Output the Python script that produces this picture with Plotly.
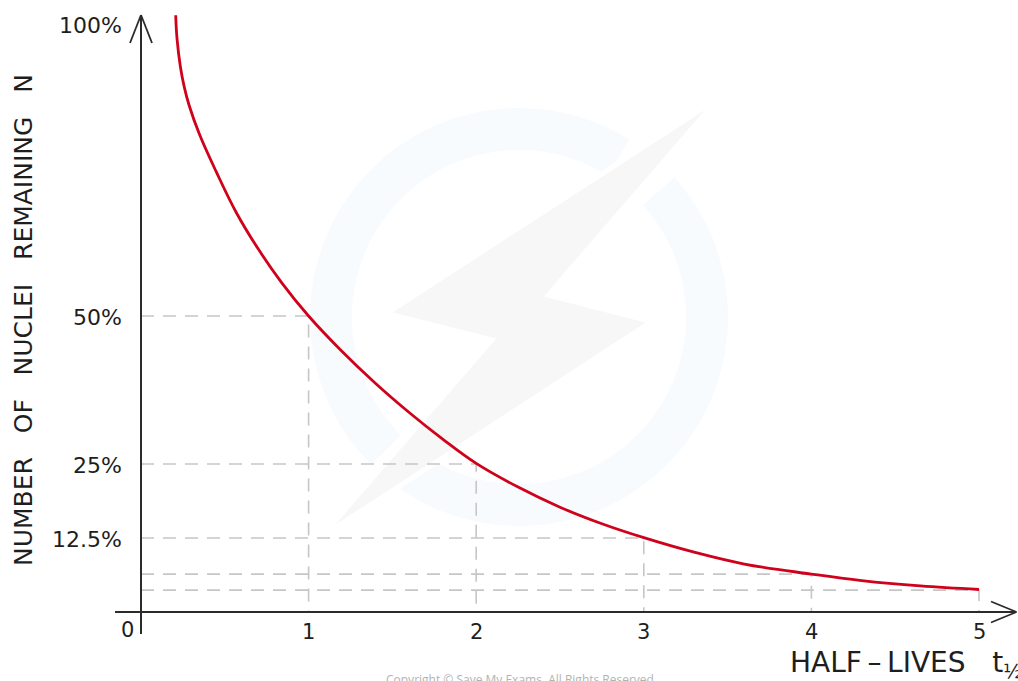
import numpy as np
import plotly.graph_objects as go

# ---------------- data ----------------
half_lives = [0.207, 0.215, 0.235, 0.258, 0.287, 0.35, 0.45, 0.57, 0.70, 0.84, 1.00, 1.20,
              1.40, 1.60, 1.80, 2.00, 2.25, 2.50, 2.75, 3.00, 3.30, 3.60, 4.00, 4.30,
              4.65, 5.00]
nuclei_pct = [100.8, 96.8, 92.1, 88.7, 85.6, 80.6, 74.3, 67.4, 61.3, 55.6, 50.0, 44.0,
              38.6, 33.7, 29.2, 25.1, 21.1, 17.7, 14.9, 12.55, 10.1, 8.1, 6.4, 5.3,
              4.4, 3.8]

guide_t = [1, 2, 3, 4, 5]
guide_n = [50, 25, 12.5, 6.4, 3.7]

x_ticks = [0, 1, 2, 3, 4, 5]
x_tick_text = ["0", "1", "2", "3", "4", "5"]
y_ticks = [100, 50, 25, 12.5]
y_tick_text = ["100%", "50%", "25%", "12.5%"]

# ---------------- figure geometry ----------------
W, H = 1018, 681
X_RANGE = [-0.8413, 5.2327]
Y_RANGE = [-11.656, 103.378]

def px(x):  # pixel -> paper x
    return x / W

def py(y):  # pixel -> paper y
    return 1 - y / H

FONT = "DejaVu Sans"
TXT = "#1e1e1e"
AXC = "#2b2b2b"
GUIDE = "#c6c6c6"
RED = "#d0021b"

fig = go.Figure()

# dashed guide lines
for t, n in zip(guide_t, guide_n):
    fig.add_trace(go.Scatter(x=[0, t, t], y=[n, n, 0], mode="lines",
                             line=dict(color=GUIDE, width=1.6, dash="13px,9px"),
                             hoverinfo="skip", showlegend=False))

# decay curve
fig.add_trace(go.Scatter(x=half_lives, y=nuclei_pct, mode="lines",
                         line=dict(color=RED, width=2.8, shape="spline", smoothing=1.1),
                         showlegend=False))

shapes = []

# watermark ring (two arcs) and bolt
cx, cy, R1, R2 = 519, 317, 209, 167
def sector(a0, a1):
    a = np.radians(np.linspace(a0, a1, 80))
    outer = [(cx + R1 * np.cos(t), cy - R1 * np.sin(t)) for t in a]
    inner = [(cx + R2 * np.cos(t), cy - R2 * np.sin(t)) for t in a[::-1]]
    pts = outer + inner
    d = "M " + " L ".join(f"{px(x):.5f},{py(y):.5f}" for x, y in pts) + " Z"
    return dict(type="path", path=d, xref="paper", yref="paper",
                fillcolor="#f8fbfe", line=dict(width=0), layer="below")
shapes.append(sector(58, 225))
shapes.append(sector(-128, 42))
bolt = [(718.3, 98.3), (548.3, 295), (651.7, 321.7), (321.7, 536.7), (491.7, 340), (386.7, 313.3)]
shapes.append(dict(type="path",
                   path="M " + " L ".join(f"{px(x):.5f},{py(y):.5f}" for x, y in bolt) + " Z",
                   xref="paper", yref="paper", fillcolor="#f7f7f7",
                   line=dict(color="white", width=5), layer="below"))

# axes with arrows (pixel-placed decorations)
def seg(x0, y0, x1, y1, w=2):
    return dict(type="line", xref="paper", yref="paper",
                x0=px(x0), y0=py(y0), x1=px(x1), y1=py(y1),
                line=dict(color=AXC, width=w), layer="above")
shapes += [
    seg(141, 634, 141, 15),
    seg(115, 612, 1016, 612),
    seg(141, 15, 130, 43, 1.8), seg(141, 15, 152, 43, 1.8),
    seg(1016.5, 612, 991, 601.5, 1.8), seg(1016.5, 612, 991, 622.5, 1.8),
]

annotations = []
for v, t in zip(x_ticks, x_tick_text):
    annotations.append(dict(x=v, y=0, xref="x", yref="y", text=t, showarrow=False,
                            xanchor="center", yanchor="middle",
                            xshift=-14 if v == 0 else 0, yshift=-18 if v == 0 else -20,
                            font=dict(family=FONT, size=21, color=TXT)))
for v, t in zip(y_ticks, y_tick_text):
    annotations.append(dict(x=0, y=v, xref="x", yref="y", text=t, showarrow=False,
                            xanchor="right", yanchor="middle", xshift=-17,
                            yshift=-5 if v == 100 else -1,
                            font=dict(family=FONT, size=22, color=TXT)))

nb = "\u00a0"
ytitle = f"NUMBER{nb*3}OF{nb*3}NUCLEI{nb*3}REMAINING{nb*3}N"
annotations.append(dict(x=px(23), y=py(320), xref="paper", yref="paper", text=ytitle,
                        textangle=-90, showarrow=False, xanchor="center", yanchor="middle",
                        font=dict(family=FONT, size=25, color=TXT)))
xtitle = f"HALF\u2009\u2013\u2009LIVES{nb*3}t<sub>\u00bd</sub>"
annotations.append(dict(x=px(788), y=py(664), xref="paper", yref="paper", text=xtitle,
                        showarrow=False, xanchor="left", yanchor="middle",
                        font=dict(family=FONT, size=28, color=TXT)))
annotations.append(dict(x=px(520), y=py(669), xref="paper", yref="paper",
                        text="Copyright \u00a9 Save My Exams. All Rights Reserved",
                        showarrow=False, xanchor="center", yanchor="top",
                        font=dict(family="Open Sans", size=12, color="#b3b3b3")))

fig.update_layout(
    width=W, height=H,
    margin=dict(l=0, r=0, t=0, b=0, pad=0),
    paper_bgcolor="white", plot_bgcolor="white",
    xaxis=dict(range=X_RANGE, visible=False, fixedrange=True),
    yaxis=dict(range=Y_RANGE, visible=False, fixedrange=True),
    shapes=shapes, annotations=annotations, showlegend=False,
)

fig.write_html("out.html",
               post_script="document.body.style.margin='0';document.body.style.overflow='hidden';",
               config={"displayModeBar": False})
